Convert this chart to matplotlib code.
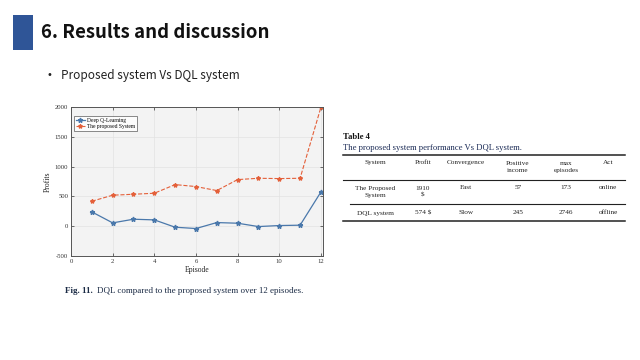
import matplotlib
matplotlib.use("Agg")
import matplotlib.pyplot as plt
from matplotlib.lines import Line2D
from matplotlib.patches import Rectangle

plt.rcParams["axes.unicode_minus"] = False

# ---- data ----
episodes = [1, 2, 3, 4, 5, 6, 7, 8, 9, 10, 11, 12]
dql_profit = [240, 56, 117, 106, -17, -39, 61, 50, -6, 11, 17, 574]
proposed_profit = [419, 520, 536, 553, 698, 665, 598, 782, 804, 799, 804, 1995]
series_labels = ["Deep Q-Learning", "The proposed System"]
x_ticks = [0, 2, 4, 6, 8, 10, 12]
y_ticks = [-500, 0, 500, 1000, 1500, 2000]

table_header = ["System", "Profit", "Convergence", "Positive\nincome", "max\nepisodes", "Act"]
table_row1 = ["The Proposed\nSystem", "1910\n$", "Fast", "57", "173", "online"]
table_row2 = ["DQL system", "574 $", "Slow", "245", "2746", "offline"]

W, H = 640, 360
fig = plt.figure(figsize=(6.4, 3.6), dpi=100)
fig.patch.set_facecolor("white")

def fx(x):
    return x / W

def fy(y):
    return 1 - y / H

# ---- slide header ----
fig.patches.append(Rectangle((fx(13), fy(50)), fx(20), 35 / H, transform=fig.transFigure,
                             facecolor="#2f5597", edgecolor="none"))
fig.text(fx(41), fy(33), "6. Results and discussion", fontsize=13.4, fontweight="bold",
         family="Noto Sans CJK KR", color="#111111", va="center", ha="left")
fig.text(fx(46), fy(75), "•", fontsize=7, family="DejaVu Sans", color="#222222", va="center")
fig.text(fx(61), fy(75), "Proposed system Vs DQL system", fontsize=8.5, family="Noto Sans CJK KR",
         color="#222222", va="center", ha="left")

# ---- chart ----
left, right, top, bottom = 71, 323, 107, 256
ax = fig.add_axes([fx(left), fy(bottom), (right - left) / W, (bottom - top) / H])
ax.set_facecolor("#f3f3f3")
ax.plot(episodes, dql_profit, "-", color="#4a78ab", lw=0.9, marker="*", ms=3.5,
        label=series_labels[0])
ax.plot(episodes, proposed_profit, "--", color="#e4603a", lw=0.8, marker="*", ms=3,
        label=series_labels[1])
ax.set_xlim(0, 12.1)
ax.set_ylim(-500, 2000)
ax.set_xticks(x_ticks)
ax.set_yticks(y_ticks)
ax.grid(True, color="#e2e2e2", lw=0.5)
ax.tick_params(direction="in", length=2, width=0.5, labelsize=4.8, top=True, right=True,
               colors="#333333", pad=2)
for lab in ax.get_xticklabels() + ax.get_yticklabels():
    lab.set_family("Liberation Serif")
for s in ax.spines.values():
    s.set_color("#555555")
    s.set_linewidth(0.7)
ax.set_xlabel("Episode", fontsize=5.5, family="Liberation Serif", labelpad=1.5, color="#222222")
ax.set_ylabel("Profits", fontsize=5.5, family="Liberation Serif", labelpad=2, color="#222222")
leg = ax.legend(loc="upper left", prop={"family": "Liberation Serif", "size": 4},
                frameon=True, fancybox=False, edgecolor="#333333", handlelength=1.6,
                handletextpad=0.5, borderpad=0.35, labelspacing=0.25,
                bbox_to_anchor=(0.0, 0.96))
leg.get_frame().set_linewidth(0.5)
leg.get_frame().set_facecolor("white")

# caption
fig.text(fx(65), fy(291), "Fig. 11.", fontsize=6.5, fontweight="bold", family="Liberation Serif",
         color="#1a2a44", va="center", ha="left")
fig.text(fx(97), fy(291), "DQL compared to the proposed system over 12 episodes.", fontsize=6.5,
         family="Liberation Serif", color="#1a2a44", va="center", ha="left")

# ---- table ----
tfont = "Liberation Serif"
fig.text(fx(343), fy(137), "Table 4", fontsize=6.2, fontweight="bold", family=tfont,
         color="#111111", va="center")
fig.text(fx(343), fy(148), "The proposed system performance Vs DQL system.", fontsize=6.2,
         family=tfont, color="#1a2a55", va="center")

def hline(y, x0, x1, lw):
    fig.lines.append(Line2D([fx(x0), fx(x1)], [fy(y), fy(y)], transform=fig.transFigure,
                            color="#222222", lw=lw))

hline(155, 343, 625, 1.1)
hline(180, 343, 625, 0.8)
hline(204, 350, 625, 0.8)
hline(221, 343, 625, 1.1)

col_x = [375, 423, 466, 518, 566, 608]
for cx, txt in zip(col_x, table_header):
    fig.text(fx(cx), fy(163 if "\n" not in txt else 167), txt, fontsize=5.2, family=tfont,
             color="#222222", ha="center", va="center", linespacing=1.3)
for cx, txt in zip(col_x, table_row1):
    if "\n" in txt:
        fig.text(fx(cx), fy(192), txt, fontsize=5.2, family=tfont, color="#222222",
                 ha="center", va="center", linespacing=1.3)
    else:
        fig.text(fx(cx), fy(187), txt, fontsize=5.2, family=tfont, color="#222222",
                 ha="center", va="center")
for cx, txt in zip(col_x, table_row2):
    fig.text(fx(cx), fy(213), txt, fontsize=5.2, family=tfont, color="#222222",
             ha="center", va="center")

fig.savefig("out.png", dpi=100)
